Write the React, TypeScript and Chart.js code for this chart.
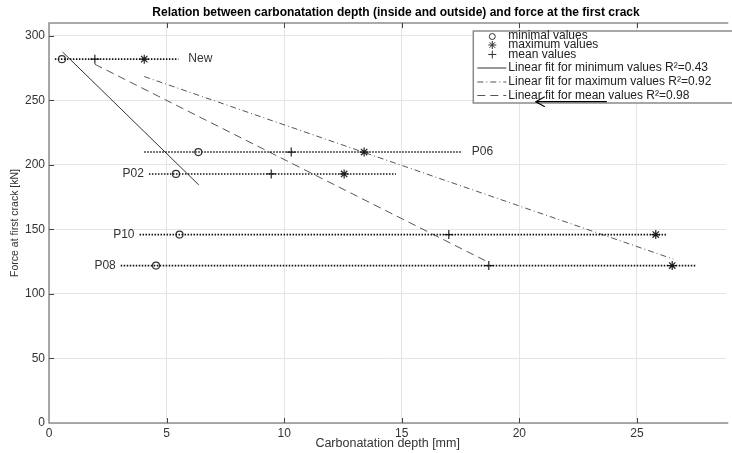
import React, { useEffect, useRef } from 'react';
import { Chart, registerables } from 'chart.js';

Chart.register(...registerables);

// ---- data ----
const specimens = ['New', 'P06', 'P02', 'P10', 'P08'];
const force = [282, 210, 193, 146, 122];
const minDepth = [0.55, 6.35, 5.4, 5.55, 4.55];
const maxDepth = [4.05, 13.4, 12.55, 25.8, 26.5];
const meanDepth = [1.95, 10.3, 9.45, 17.0, 18.7];
const rangeStart = [0.25, 4.05, 4.25, 3.85, 3.05];
const rangeEnd = [5.5, 17.55, 14.75, 26.3, 27.5];
const labelSide = ['right', 'right', 'left', 'left', 'left'];

const fitMinX = [0.58, 6.37];
const fitMinY = [287.5, 184.5];
const fitMaxX = [4.05, 26.55];
const fitMaxY = [268.5, 127];
const fitMeanX = [1.95, 18.75];
const fitMeanY = [278, 124];

const arrowTail = [23.72, 249];
const arrowHead = [20.7, 249];

const xTicks = [0, 5, 10, 15, 20, 25];
const yTicks = [0, 50, 100, 150, 200, 250, 300];

const titleText = 'Relation between carbonatation depth (inside and outside) and force at the first crack';
const xTitle = 'Carbonatation depth [mm]';
const yTitle = 'Force at first crack [kN]';
const legendLabels = [
  'minimal values',
  'maximum values',
  'mean values',
  'Linear fit for minimum values R²=0.43',
  'Linear fit for maximum values R²=0.92',
  'Linear fit for mean values R²=0.98',
];

const FONT = '"Liberation Sans", Arial, Helvetica, sans-serif';
const pts = (xs: number[], ys: number[]) => xs.map((x, i) => ({ x, y: ys[i] }));

const overlay = {
  id: 'overlay',
  beforeDatasetsDraw(chart: any) {
    const { ctx, chartArea: a, scales } = chart;
    const x = scales.x, y = scales.y;
    ctx.save();
    ctx.strokeStyle = '#8f8f8f';
    ctx.lineWidth = 1.5;
    ctx.beginPath();
    ctx.moveTo(a.right + 2, a.top);
    ctx.lineTo(a.left, a.top);
    ctx.lineTo(a.left, a.bottom);
    ctx.lineTo(a.right + 2, a.bottom);
    ctx.stroke();
    ctx.lineWidth = 1;
    ctx.strokeStyle = '#444';
    ctx.beginPath();
    for (const v of xTicks) {
      if (v === 0) continue;
      const px = Math.round(x.getPixelForValue(v)) + 0.5;
      ctx.moveTo(px, a.top);
      ctx.lineTo(px, a.top + 5);
      ctx.moveTo(px, a.bottom);
      ctx.lineTo(px, a.bottom - 5);
    }
    for (const v of yTicks) {
      if (v === 0) continue;
      const py = Math.round(y.getPixelForValue(v)) + 0.5;
      ctx.moveTo(a.left, py);
      ctx.lineTo(a.left + 5, py);
    }
    ctx.stroke();
    ctx.restore();
  },
  afterDatasetsDraw(chart: any) {
    const { ctx, chartArea: a, scales } = chart;
    const x = scales.x, y = scales.y;
    ctx.save();
    // title
    ctx.fillStyle = '#000';
    ctx.font = `bold 12px ${FONT}`;
    ctx.textAlign = 'center';
    ctx.textBaseline = 'middle';
    ctx.fillText(titleText, a.left + 347, 13);

    // specimen labels
    ctx.font = `12px ${FONT}`;
    ctx.fillStyle = '#333';
    specimens.forEach((s, i) => {
      const py = y.getPixelForValue(force[i]);
      if (labelSide[i] === 'right') {
        ctx.textAlign = 'left';
        ctx.fillText(s, x.getPixelForValue(rangeEnd[i]) + 10, py);
      } else {
        ctx.textAlign = 'right';
        ctx.fillText(s, x.getPixelForValue(rangeStart[i]) - 5, py);
      }
    });

    // legend
    const L = a.right - 253, T = a.top + 8;
    ctx.fillStyle = '#fff';
    ctx.fillRect(L, T, 270, 72);
    ctx.strokeStyle = '#8a8a8a';
    ctx.lineWidth = 1.5;
    ctx.strokeRect(L, T, 270, 72);
    const rowY = [T + 4.5, T + 14, T + 23.5, T + 37, T + 51, T + 64.5];
    ctx.fillStyle = '#222';
    ctx.font = `12px ${FONT}`;
    ctx.textAlign = 'left';
    legendLabels.forEach((t, i) => ctx.fillText(t, L + 35, rowY[i]));
    const mx = L + 19;
    ctx.strokeStyle = '#333';
    ctx.lineWidth = 1;
    // circle
    ctx.beginPath();
    ctx.arc(mx, rowY[0] + 1, 3, 0, Math.PI * 2);
    ctx.stroke();
    // star
    ctx.beginPath();
    const r = 4;
    ctx.moveTo(mx - r, rowY[1]); ctx.lineTo(mx + r, rowY[1]);
    ctx.moveTo(mx, rowY[1] - r); ctx.lineTo(mx, rowY[1] + r);
    ctx.moveTo(mx - 2.8, rowY[1] - 2.8); ctx.lineTo(mx + 2.8, rowY[1] + 2.8);
    ctx.moveTo(mx - 2.8, rowY[1] + 2.8); ctx.lineTo(mx + 2.8, rowY[1] - 2.8);
    // plus
    ctx.moveTo(mx - r, rowY[2]); ctx.lineTo(mx + r, rowY[2]);
    ctx.moveTo(mx, rowY[2] - r); ctx.lineTo(mx, rowY[2] + r);
    ctx.stroke();
    // line samples
    const drawSample = (yy: number, dash: number[], color: string) => {
      ctx.setLineDash(dash);
      ctx.strokeStyle = color;
      ctx.beginPath();
      ctx.moveTo(L + 4, yy);
      ctx.lineTo(L + 33, yy);
      ctx.stroke();
    };
    drawSample(rowY[3], [], '#333');
    drawSample(rowY[4], [6, 3, 1, 3], '#555');
    drawSample(rowY[5], [8, 5], '#555');
    ctx.setLineDash([]);

    // arrow (drawn over the legend frame)
    const tx = x.getPixelForValue(arrowTail[0]), ty = y.getPixelForValue(arrowTail[1]);
    const hx = x.getPixelForValue(arrowHead[0]), hy = y.getPixelForValue(arrowHead[1]);
    ctx.strokeStyle = '#000';
    ctx.lineWidth = 1.2;
    ctx.beginPath();
    ctx.moveTo(tx, ty);
    ctx.lineTo(hx, hy);
    ctx.moveTo(hx + 9, hy - 5);
    ctx.lineTo(hx, hy);
    ctx.lineTo(hx + 9, hy + 5);
    ctx.stroke();
    ctx.restore();
  },
};

export default function App() {
  const ref = useRef<HTMLCanvasElement>(null);
  useEffect(() => {
    if (!ref.current) return;
    const rangeSets = specimens.map((_, i) => ({
      data: [
        { x: rangeStart[i], y: force[i] },
        { x: rangeEnd[i], y: force[i] },
      ],
      showLine: true,
      borderColor: '#111',
      borderWidth: 1.6,
      borderDash: [1.5, 1.5],
      pointRadius: 0,
    }));
    const chart = new Chart(ref.current, {
      type: 'scatter',
      data: {
        datasets: [
          ...rangeSets,
          {
            data: pts(fitMinX, fitMinY),
            showLine: true,
            borderColor: '#333',
            borderWidth: 1,
            pointRadius: 0,
          },
          {
            data: pts(fitMaxX, fitMaxY),
            showLine: true,
            borderColor: '#555',
            borderWidth: 1,
            borderDash: [6, 3, 1, 3],
            pointRadius: 0,
          },
          {
            data: pts(fitMeanX, fitMeanY),
            showLine: true,
            borderColor: '#555',
            borderWidth: 1,
            borderDash: [8, 5],
            pointRadius: 0,
          },
          {
            data: pts(minDepth, force),
            showLine: false,
            pointStyle: 'circle',
            pointRadius: 3.5,
            borderColor: '#333',
            borderWidth: 1.2,
            backgroundColor: 'rgba(0,0,0,0)',
          },
          {
            data: pts(maxDepth, force),
            showLine: false,
            pointStyle: 'star',
            pointRadius: 4.5,
            borderColor: '#222',
            borderWidth: 1.2,
            backgroundColor: 'rgba(0,0,0,0)',
          },
          {
            data: pts(meanDepth, force),
            showLine: false,
            pointStyle: 'cross',
            pointRadius: 4.5,
            borderColor: '#222',
            borderWidth: 1.2,
            backgroundColor: 'rgba(0,0,0,0)',
          },
        ],
      },
      options: {
        responsive: false,
        animation: false,
        events: [],
        layout: { padding: { top: 23, left: 0, right: 0, bottom: 0 } },
        plugins: {
          legend: { display: false },
          tooltip: { enabled: false },
          title: { display: false },
        },
        scales: {
          x: {
            type: 'linear',
            min: 0,
            max: 28.8,
            afterBuildTicks: (s: any) => {
              s.ticks = xTicks.map((v) => ({ value: v }));
            },
            afterFit: (s: any) => {
              s.height = 30;
            },
            border: { display: false },
            grid: { color: '#e4e4e4', drawTicks: false, lineWidth: 1 },
            ticks: {
              font: { family: FONT, size: 12 },
              color: '#333',
              padding: 3,
              maxRotation: 0,
              autoSkip: false,
            },
            title: {
              display: true,
              text: xTitle,
              font: { family: FONT, size: 12.5 },
              color: '#333',
              padding: { top: 0, bottom: 2 },
            },
          },
          y: {
            type: 'linear',
            min: 0,
            max: 310,
            afterBuildTicks: (s: any) => {
              s.ticks = yTicks.map((v) => ({ value: v }));
            },
            afterFit: (s: any) => {
              s.width = 49;
            },
            border: { display: false },
            grid: { color: '#e4e4e4', drawTicks: false, lineWidth: 1 },
            ticks: {
              font: { family: FONT, size: 12 },
              color: '#333',
              padding: 4,
              autoSkip: false,
            },
            title: {
              display: true,
              text: yTitle,
              font: { family: FONT, size: 10.5 },
              color: '#333',
              padding: { top: 9, bottom: 0 },
            },
          },
        },
      },
      plugins: [overlay],
    } as any);
    return () => chart.destroy();
  }, []);
  return (
    <div style={{ position: 'absolute', left: 0, top: 0, width: 732, height: 453, overflow: 'hidden', background: '#fff' }}>
      <canvas ref={ref} width={732} height={453} />
    </div>
  );
}
